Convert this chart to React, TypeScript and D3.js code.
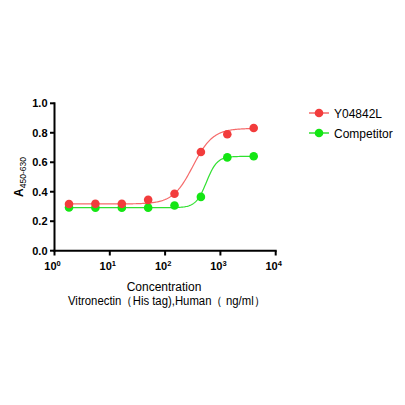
import React from "react";
import * as d3 from "d3";

const concentrations = [1.83, 5.49, 16.5, 49.4, 148, 444, 1333, 4000];
const redValues = [0.317, 0.318, 0.318, 0.345, 0.386, 0.67, 0.79, 0.832];
const greenValues = [0.293, 0.292, 0.292, 0.292, 0.307, 0.365, 0.633, 0.641];
// 4PL fit parameters: [bottom, top, ec50, hill]
const redFit = [0.317, 0.83, 318, 2.4];
const greenFit = [0.292, 0.64, 560, 4.5];
const seriesNames = ["Y04842L", "Competitor"];
const yTicks = [0, 0.2, 0.4, 0.6, 0.8, 1.0];
const xTickExps = [0, 1, 2, 3, 4];

const RED = "#f23c3c";
const RED_LINE = "#f56a6a";
const GREEN = "#14e614";
const GREEN_LINE = "#30e030";

export default function App() {
  const W = 405, H = 405;
  const x = d3.scaleLog().domain([1, 10000]).range([54.5, 275.7]);
  const y = d3.scaleLinear().domain([0, 1]).range([250.7, 103.3]);
  const fourPL = (p: number[]) => (c: number) => p[0] + (p[1] - p[0]) / (1 + Math.pow(p[2] / c, p[3]));
  const lo = concentrations[0], hi = concentrations[concentrations.length - 1];
  const samples = d3.range(0, 201).map((i) => Math.exp(Math.log(lo) + (Math.log(hi) - Math.log(lo)) * i / 200));
  const mk = (p: number[]) => d3.line<number>().x((c) => x(c)).y((c) => y(fourPL(p)(c)))(samples) || "";
  const font = "Arial, 'Liberation Sans', sans-serif";
  return (
    <svg width={W} height={H} style={{ display: "block", position: "absolute", left: 0, top: 0 }} fontFamily={font}>
      <rect width={W} height={H} fill="#fff" />
      <path d={mk(redFit)} fill="none" stroke={RED_LINE} strokeWidth={1.2} />
      <path d={mk(greenFit)} fill="none" stroke={GREEN_LINE} strokeWidth={1.2} />
      {concentrations.map((c, i) => (
        <circle key={"g" + i} cx={x(c)} cy={y(greenValues[i])} r={4.3} fill={GREEN} />
      ))}
      {concentrations.map((c, i) => (
        <circle key={"r" + i} cx={x(c)} cy={y(redValues[i])} r={4.3} fill={RED} />
      ))}
      <line x1={54.5} x2={54.5} y1={y(1) - 1} y2={y(0) + 1} stroke="#000" strokeWidth={2} />
      {yTicks.map((t) => (
        <g key={t}>
          <line x1={50} x2={54.5} y1={y(t)} y2={y(t)} stroke="#000" strokeWidth={2} />
          <text x={47.5} y={y(t) + 4} textAnchor="end" fontSize={11} fontWeight="bold">{t.toFixed(1)}</text>
        </g>
      ))}
      <line x1={53.5} x2={276.7} y1={250.7} y2={250.7} stroke="#000" strokeWidth={2} />
      {xTickExps.map((e) => (
        <g key={e}>
          <line x1={x(Math.pow(10, e))} x2={x(Math.pow(10, e))} y1={250.7} y2={255.5} stroke="#000" strokeWidth={2} />
          <text x={x(Math.pow(10, e)) - 2} y={270} textAnchor="middle" fontSize={11} fontWeight="bold">
            10<tspan fontSize={7.5} dy={-4.5}>{e}</tspan>
          </text>
        </g>
      ))}
      <text x={164} y={291} textAnchor="middle" fontSize={12}>Concentration</text>
      <text x={166.5} y={305} textAnchor="middle" fontSize={12} textLength={197} lengthAdjust="spacingAndGlyphs">Vitronectin（His tag),Human（ ng/ml）</text>
      <text transform="translate(23,177) rotate(-90)" textAnchor="middle" fontSize={12} fontWeight="bold">
        A<tspan fontSize={8.5} fontWeight="normal" dy={3}>450-630</tspan>
      </text>
      {seriesNames.map((n, i) => {
        const ly = 113 + i * 20;
        const c = i === 0 ? RED : GREEN;
        const lc = i === 0 ? RED_LINE : GREEN_LINE;
        return (
          <g key={n}>
            <line x1={309} x2={329} y1={ly} y2={ly} stroke={lc} strokeWidth={1.5} />
            <circle cx={319} cy={ly} r={4.3} fill={c} />
            <text x={334} y={ly + 4.5} fontSize={12}>{n}</text>
          </g>
        );
      })}
    </svg>
  );
}
